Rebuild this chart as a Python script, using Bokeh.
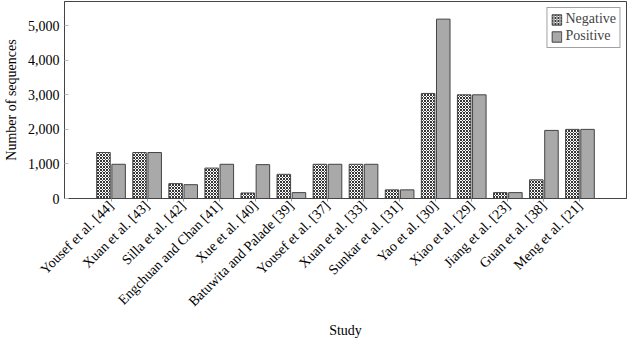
import math
from bokeh.plotting import figure
from bokeh.models import ColumnDataSource, FixedTicker, NumeralTickFormatter, Range1d, Legend, LegendItem
from bokeh.embed import file_html
from bokeh.resources import INLINE

studies = ["Yousef et al. [44]", "Xuan et al. [43]", "Silla et al. [42]", "Engchuan and Chan [41]",
           "Xue et al. [40]", "Batuwita and Palade [39]", "Yousef et al. [37]", "Xuan et al. [33]",
           "Sunkar et al. [31]", "Yao et al. [30]", "Xiao et al. [29]", "Jiang et al. [23]",
           "Guan et al. [38]", "Meng et al. [21]"]
negative = [1330, 1330, 430, 880, 160, 700, 990, 990, 250, 3040, 3000, 170, 540, 2000]
positive = [990, 1330, 400, 990, 980, 170, 990, 990, 250, 5190, 3000, 170, 1970, 2000]
y_ticks = [0, 1000, 2000, 3000, 4000, 5000]

FONT = "Liberation Serif"
idx = list(range(len(studies)))
src = ColumnDataSource(dict(
    xn=[i - 0.21 for i in idx], xp=[i + 0.21 for i in idx],
    neg=negative, pos=positive))

p = figure(frame_width=562, frame_height=197, output_backend="svg", toolbar_location=None,
           x_range=Range1d(-1.29, len(studies) - 1 + 1.29), y_range=Range1d(0, 5700),
           min_border_left=0, min_border_right=2, min_border_top=1, min_border_bottom=0)

rn = p.vbar(x="xn", top="neg", width=0.375, source=src, fill_color="white",
            hatch_pattern="diagonal_cross", hatch_color="black", hatch_scale=3.0, hatch_weight=0.8,
            line_color="#444444", line_width=1)
rp = p.vbar(x="xp", top="pos", width=0.375, source=src, fill_color="#a9a9a9",
            line_color="#444444", line_width=1)

p.xgrid.visible = False
p.ygrid.visible = False
p.outline_line_color = "#444444"
p.outline_line_width = 1

p.xaxis.ticker = FixedTicker(ticks=idx)
p.xaxis.major_label_overrides = {i: s for i, s in enumerate(studies)}
p.xaxis.major_label_orientation = math.pi / 4
p.xaxis.minor_tick_line_color = None
p.xaxis.major_tick_in = 0
p.xaxis.major_tick_out = 3
p.xaxis.major_tick_line_color = "#999999"
p.xaxis.axis_label = "Study"

p.yaxis.ticker = FixedTicker(ticks=y_ticks)
p.yaxis.formatter = NumeralTickFormatter(format="0,0")
p.yaxis.minor_tick_line_color = None
p.yaxis.major_tick_in = 4
p.yaxis.major_tick_out = 0
p.yaxis.major_tick_line_color = "#bbbbbb"
p.yaxis.axis_label = "Number of sequences"

for ax in (p.xaxis[0], p.yaxis[0]):
    ax.axis_line_color = "#444444"
    ax.major_label_text_font = FONT
    ax.major_label_text_font_size = "14px"
    ax.major_label_text_color = "black"
    ax.axis_label_text_font = FONT
    ax.axis_label_text_font_size = "14px"
    ax.axis_label_text_font_style = "normal"
    ax.axis_label_text_color = "black"
p.xaxis.axis_label_standoff = 6
p.yaxis.axis_label_standoff = 6
p.yaxis.major_label_standoff = 5
p.xaxis.major_label_standoff = 2

legend = Legend(items=[LegendItem(label="Negative", renderers=[rn]),
                       LegendItem(label="Positive", renderers=[rp])],
                location="top_right")
legend.label_text_font = FONT
legend.label_text_font_size = "14px"
legend.label_height = 15
legend.glyph_height = 13
legend.glyph_width = 12
legend.spacing = 1
legend.padding = 3
legend.margin = 6
legend.label_standoff = 3
legend.border_line_color = "#444444"
legend.background_fill_alpha = 1
p.add_layout(legend)

open("out.html", "w").write(file_html(p, INLINE))
